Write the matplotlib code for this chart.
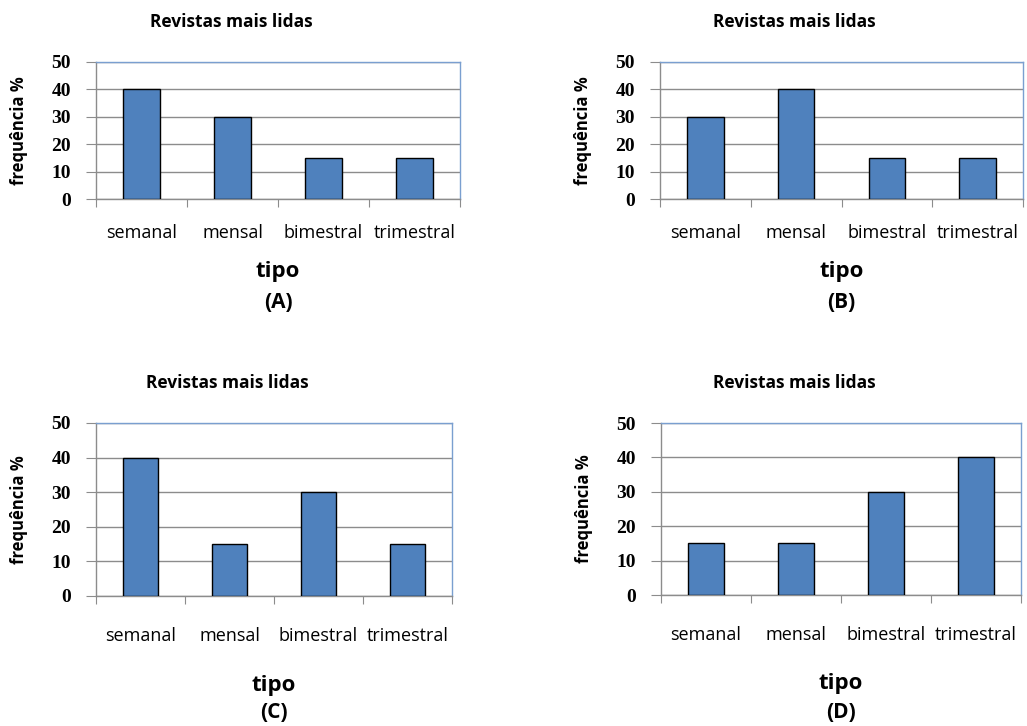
import matplotlib
matplotlib.use("Agg")
import matplotlib.pyplot as plt
import numpy as np

categories = ["semanal", "mensal", "bimestral", "trimestral"]
values_a = [40, 30, 15, 15]
values_b = [30, 40, 15, 15]
values_c = [40, 15, 30, 15]
values_d = [15, 15, 30, 40]
panel_labels = ["(A)", "(B)", "(C)", "(D)"]

W, H = 1027, 726
BAR = "#4F81BD"
SANS = ["Open Sans", "DejaVu Sans"]
SERIF = ["Liberation Serif", "DejaVu Serif"]

fig = plt.figure(figsize=(W / 100, H / 100), dpi=100)

# axes boxes in pixels: left, top, right, bottom
boxes = [(96, 62, 460, 199), (660, 62, 1023, 199),
         (96, 423, 452, 596), (661, 423, 1021, 595)]
# pixel gaps below the axes: category pad, "tipo", panel letter
gaps = [(18, 73, 103), (18, 73, 103), (22, 89, 117), (22, 89, 117)]
series = [values_a, values_b, values_c, values_d]

for (l, t, r, b), (cpad, g1, g2), vals, lab in zip(boxes, gaps, series, panel_labels):
    ax = fig.add_axes([l / W, 1 - b / H, (r - l) / W, (b - t) / H])
    x = np.arange(len(categories))
    ax.bar(x, vals, width=0.4, color=BAR, edgecolor="black", linewidth=1.0, zorder=3)
    ax.set_xlim(-0.5, len(categories) - 0.5)
    ax.set_ylim(0, 50)
    ax.set_yticks(range(0, 51, 10))
    ax.yaxis.grid(True, color="#8c8c8c", linewidth=1.0, zorder=0)
    ax.set_xticks(np.arange(-0.5, len(categories), 1.0))
    ax.set_xticklabels([])
    ax.set_xticks(x, minor=True)
    ax.set_xticklabels(categories, minor=True, fontsize=13, family=SANS)
    ax.tick_params(axis="x", which="minor", length=0, pad=cpad)
    ax.tick_params(axis="x", which="major", length=6, color="#8c8c8c", direction="out")
    ax.tick_params(axis="y", length=7, color="#8c8c8c", pad=11)
    for tl in ax.get_yticklabels():
        tl.set_fontsize(14)
        tl.set_fontweight("bold")
        tl.set_family(SERIF)
    for s in ("top", "right"):
        ax.spines[s].set_color("#7a9fd0")
        ax.spines[s].set_linewidth(1.0)
    for s in ("left", "bottom"):
        ax.spines[s].set_color("#8c8c8c")
        ax.spines[s].set_linewidth(1.0)
    ax.set_ylabel("frequência %", fontsize=12, fontweight="bold", family=SANS)
    ax.yaxis.set_label_coords(-68 / (r - l), 0.5)
    cx = (l + r) / 2
    fig.text((cx - 47) / W, 1 - (t - 40) / H, "Revistas mais lidas", ha="center", va="center",
             fontsize=12.5, fontweight="bold", family=SANS)
    fig.text(cx / W, 1 - (b + g1) / H, "tipo", ha="center", va="center",
             fontsize=16, fontweight="bold", family=SANS)
    fig.text(cx / W, 1 - (b + g2) / H, lab, ha="center", va="center",
             fontsize=15, fontweight="bold", family=SANS)

fig.savefig("out.png", dpi=100)
